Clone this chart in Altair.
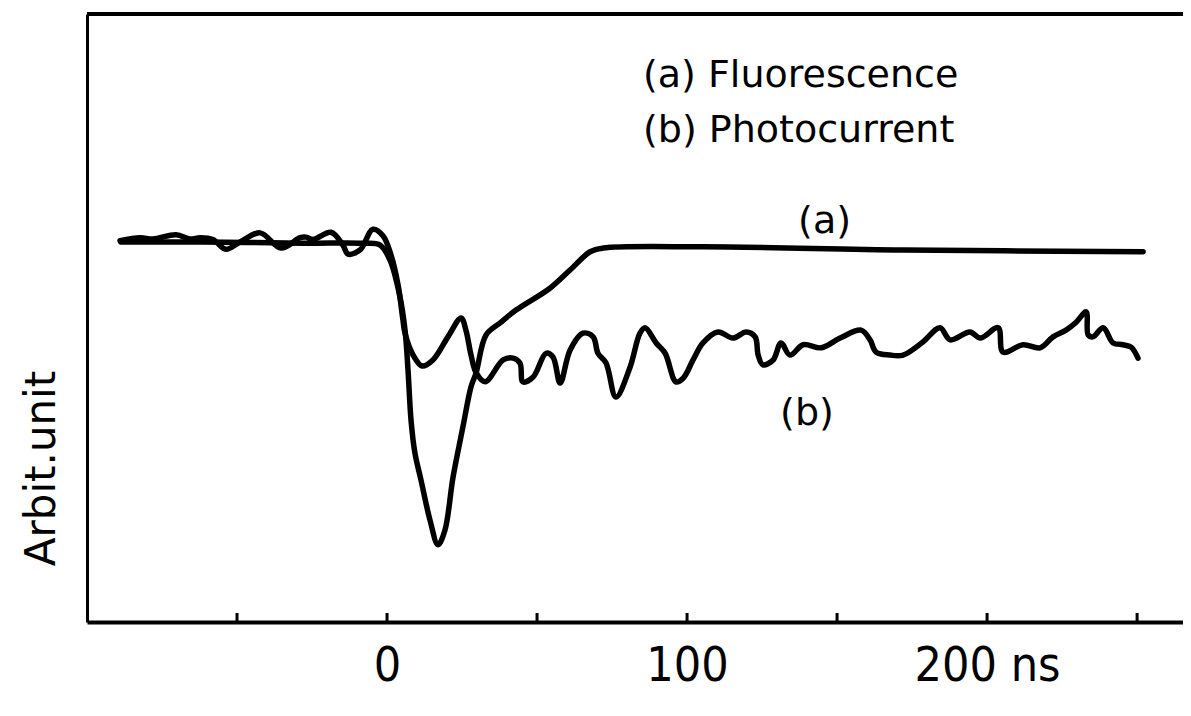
import altair as alt
import pandas as pd

# (a) Fluorescence trace: time (ns) and signal (arbitrary units)
fluor_t = [-88.7, -61.3, -28.0, -8.0, -2.3, 1.0, 4.3, 6.0, 7.0, 8.0, 9.3, 11.3, 14.3, 17.0,
           19.3, 22.0, 25.3, 28.0, 29.7, 33.0, 37.7, 43.0, 54.3, 61.0, 67.7, 72.0, 105.3,
           172.0, 252.0]
fluor_v = [62.5, 62.5, 62.3, 62.3, 62.0, 59.5, 53.5, 48.0, 41.4, 33.2, 27.8, 23.4, 16.8, 12.7,
           15.1, 23.8, 32.1, 38.7, 41.0, 47.2, 49.2, 51.3, 54.9, 57.9, 60.9, 61.5, 61.7,
           61.2, 60.9]

# (b) Photocurrent trace
photo_t = [-89.0, -82.3, -78.0, -70.3, -65.7, -62.3, -58.0, -53.7, -49.0, -42.3, -35.3, -29.0,
           -27.0, -24.7, -18.7, -14.7, -13.0, -9.0, -4.7, -1.3, 1.3, 3.7, 5.3, 6.0, 8.7, 11.7,
           15.3, 20.3, 24.7, 26.3, 28.0, 29.7, 32.7, 38.7, 42.0, 44.3, 45.3, 48.7, 53.0, 55.3,
           57.7, 61.0, 65.3, 68.7, 70.3, 73.0, 76.3, 81.0, 84.3, 86.0, 89.7, 92.7, 96.3, 98.7,
           102.0, 105.3, 110.3, 115.3, 119.7, 122.7, 123.7, 125.3, 128.7, 131.3, 134.3, 138.7,
           144.7, 151.0, 158.0, 161.0, 163.0, 167.7, 172.0, 178.7, 184.3, 187.7, 194.3, 197.7,
           203.7, 205.3, 212.0, 217.7, 222.0, 226.3, 229.7, 233.0, 233.7, 235.3, 238.7, 242.0,
           245.3, 248.0, 250.3]
photo_v = [62.7, 63.2, 63.0, 63.7, 63.0, 63.2, 62.9, 61.3, 62.5, 64.0, 61.5, 63.2,
           63.3, 62.9, 64.1, 62.0, 60.5, 61.2, 64.6, 63.5, 60.4, 55.4, 49.7, 47.5, 43.9, 42.1,
           43.1, 46.9, 50.0, 48.0, 43.9, 41.0, 39.5, 43.1, 43.4, 42.6, 39.5, 40.3, 44.2, 43.6,
           39.3, 44.7, 47.5, 46.9, 44.2, 42.6, 37.0, 41.9, 47.5, 48.4, 45.9, 44.2, 39.5, 40.1,
           43.1, 45.9, 47.7, 46.7, 47.7, 46.9, 43.9, 42.3, 43.1, 45.9, 43.9, 45.6,
           45.1, 46.7, 48.0, 46.4, 44.4, 43.9, 43.9, 46.1, 48.4, 46.4, 47.7, 46.7,
           48.4, 44.4, 45.6, 45.1, 46.9, 48.0, 49.3, 51.0, 47.2, 46.9, 48.4, 45.9,
           45.6, 45.2, 43.4]

tick_values = [-50, 0, 50, 100, 150, 200, 250]
label_values = [0, 100, 200]

annot_text = ["(a) Fluorescence", "(b) Photocurrent", "(a)", "(b)"]

W, H = 1096, 608
DIGIT_FONT = "DejaVu Sans Condensed, Liberation Sans Narrow, Liberation Sans"
xs = alt.Scale(domain=[-100, 265.3], nice=False, zero=False)
ys = alt.Scale(domain=[0, 100], nice=False, zero=False)
x_axis = alt.Axis(
    values=label_values, title=None, grid=False, ticks=False,
    labelExpr="datum.value == 200 ? '200 ns' : datum.label",
    domainColor="black", domainWidth=4, labelFontSize=48, labelColor="black",
    labelFont=DIGIT_FONT, labelPadding=20, labelFlush=False)
y_axis = alt.Axis(
    title="Arbit.unit", labels=False, ticks=False, grid=False,
    domainColor="black", domainWidth=3, titleFontSize=42, titleFontWeight="normal",
    titleFont="DejaVu Sans", titleColor="black", titleAngle=270,
    titleX=-46, titleY=454, titleAlign="center", titleBaseline="middle")


def X():
    return alt.X("t:Q", scale=xs, axis=x_axis)


def Y():
    return alt.Y("v:Q", scale=ys, axis=y_axis)


rows = []
for i, (t, v) in enumerate(zip(fluor_t, fluor_v)):
    rows.append({"series": "a", "t": t, "v": v, "i": i})
for i, (t, v) in enumerate(zip(photo_t, photo_v)):
    rows.append({"series": "b", "t": t, "v": v, "i": i})
df = pd.DataFrame(rows)

lines = alt.Chart(df).mark_line(color="black", strokeWidth=5.5, interpolate="catmull-rom",
                                strokeCap="round", strokeJoin="round").encode(
    x=X(), y=Y(), detail="series:N", order="i:Q",
)

top = alt.Chart(df).mark_rule(color="black", strokeWidth=4).encode(
    x=alt.value(0), x2=alt.value(W), y=alt.value(0))

ticks = alt.Chart(pd.DataFrame({"t": tick_values})).mark_rule(
    color="black", strokeWidth=3).encode(
    x=X(), y=alt.value(H), y2=alt.value(H - 9))

annot = pd.DataFrame({
    "text": annot_text,
    "t": [85.3, 85.3, 137, 131],
    "v": [88.0, 79.0, 64.0, 32.4],
})
texts = alt.Chart(annot).mark_text(
    align="left", baseline="alphabetic", fontSize=38, font="DejaVu Sans", color="black"
).encode(x=X(), y=Y(), text="text:N")

chart = alt.layer(lines, top, ticks, texts).properties(
    width=W, height=H,
    autosize=alt.AutoSizeParams(type="none"),
    padding={"left": 79, "top": 6, "right": 0, "bottom": 92},
    background="white",
).configure_view(stroke=None)

chart.save("out.html", embed_options={"renderer": "svg", "actions": False})
